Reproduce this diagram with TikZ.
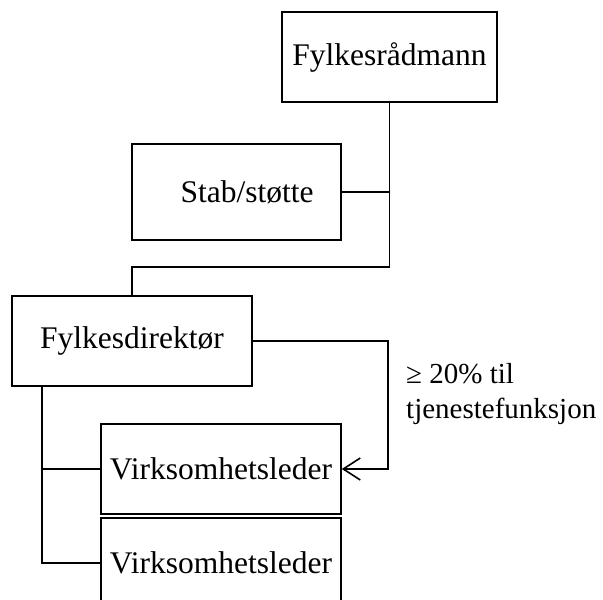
\documentclass[tikz,border=0pt]{standalone}
\usepackage{fontspec}
\setmainfont{Liberation Serif}
\usetikzlibrary{arrows.meta}
\begin{document}
\begin{tikzpicture}[x=1pt,y=-1pt,
  box/.style={draw, line width=1.6pt, rectangle, inner sep=0pt, font=\fontsize{31.5}{35}\selectfont},
  conn/.style={line width=1.6pt},
  lbl/.style={font=\fontsize{29}{35}\selectfont, inner sep=0pt, anchor=base west}]
\useasboundingbox (0,0) rectangle (603,600);
\clip (0,0) rectangle (603,600);
\node[box, minimum width=215pt, minimum height=90pt] (fr) at (389.5,57) {Fylkesrådmann};
\node[box, minimum width=209pt, minimum height=96pt] (st) at (236.5,192) {\hspace*{21pt}Stab/støtte};
\node[box, minimum width=240pt, minimum height=90pt] (fd) at (132,341) {Fylkesdirektør};
\node[box, minimum width=240pt, minimum height=90pt] (v1) at (221,469) {Virksomhetsleder};
\node[box, minimum width=240pt, minimum height=90pt] (v2) at (221,563) {Virksomhetsleder};
\coordinate (j) at (389.5,267);
\coordinate (lt) at (42,386);
\coordinate (r) at (388,341);
\draw[conn] (fr.south) -- (j) -| (fd.north);
\draw[conn] (st.east) -- (st.east -| fr.south);
\draw[conn, -{Straight Barb[length=17pt,width=22pt,line width=1.6pt]}] (fd.east) -- (r) |- (v1.east);
\draw[conn] (lt) |- (v1.west);
\draw[conn] (lt) |- (v2.west);
\node[lbl] (l1) at (406,383) {≥ 20\% til};
\node[lbl] (l2) at (406,418) {tjenestefunksjon};
\end{tikzpicture}
\end{document}
